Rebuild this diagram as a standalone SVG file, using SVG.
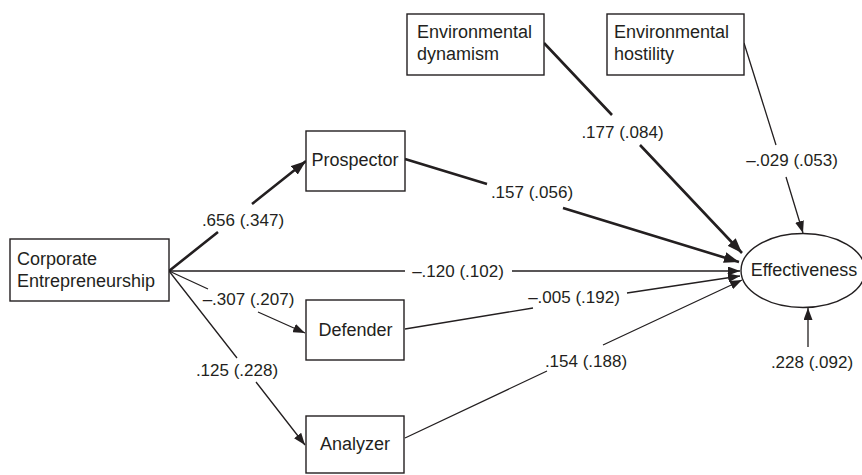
<svg xmlns="http://www.w3.org/2000/svg" width="862" height="475" viewBox="0 0 862 475">
<style>
  .box { fill: #fff; stroke: #231f20; stroke-width: 1.4; }
  .nt { font-family: "Liberation Sans", Arial, Helvetica, sans-serif; font-size: 18px; fill: #231f20; }
  .lt { font-family: "Liberation Sans", Arial, Helvetica, sans-serif; font-size: 17px; fill: #231f20; text-anchor: middle; }
  .mid { text-anchor: middle; }
  .thin { fill: none; stroke: #231f20; stroke-width: 1.3; marker-end: url(#ah); }
  .thick { fill: none; stroke: #231f20; stroke-width: 2.6; marker-end: url(#ahb); }
</style>
<defs>
  <marker id="ah" markerUnits="userSpaceOnUse" markerWidth="12" markerHeight="9" refX="12" refY="4.5" orient="auto">
    <path d="M0,0 L12,4.5 L0,9 Z" fill="#231f20"/>
  </marker>
  <marker id="ahb" markerUnits="userSpaceOnUse" markerWidth="15" markerHeight="11" refX="15" refY="5.5" orient="auto">
    <path d="M0,0 L15,5.5 L0,11 Z" fill="#231f20"/>
  </marker>
</defs>
<rect width="862" height="475" fill="#fff"/>

<g id="connectors">
  <path class="thick" d="M169,271 L218,232 M252,204 L306,161"/>
  <path class="thick" d="M405,159 L487,184 M563,208 L739,262"/>
  <path class="thick" d="M544,43 L612,115 M640,145 L742,253"/>
  <path class="thin" d="M744,43 L776,145 M786,177 L803,233"/>
  <path class="thin" d="M169,271 L405,271 M512,271 L740,271"/>
  <path class="thin" d="M169,271 L208,289 M258,312 L305,333"/>
  <path class="thin" d="M169,271 L237,358 M256,382 L305,445"/>
  <path class="thin" d="M405,329 L533,308 M627,293 L740,276"/>
  <path class="thin" d="M405,438 L547,371 M603,345 L742,280"/>
  <path class="thin" d="M808,347 L808,308"/>
</g>

<g id="labels">
  <text class="lt" x="243" y="226">.656 (.347)</text>
  <text class="lt" x="532" y="198">.157 (.056)</text>
  <text class="lt" x="622.5" y="138">.177 (.084)</text>
  <text class="lt" x="792" y="166">–.029 (.053)</text>
  <text class="lt" x="458" y="277">–.120 (.102)</text>
  <text class="lt" x="248.5" y="305">–.307 (.207)</text>
  <text class="lt" x="237" y="376">.125 (.228)</text>
  <text class="lt" x="574" y="303">–.005 (.192)</text>
  <text class="lt" x="586" y="367">.154 (.188)</text>
  <text class="lt" x="812" y="368">.228 (.092)</text>
</g>

<g id="corporate-entrepreneurship">
  <rect class="box" x="10" y="239" width="159" height="62"/>
  <text class="nt" x="17" y="264.5">Corporate</text>
  <text class="nt" x="17" y="286.5">Entrepreneurship</text>
</g>
<g id="prospector">
  <rect class="box" x="306" y="131" width="99" height="60"/>
  <text class="nt mid" x="355" y="166">Prospector</text>
</g>
<g id="defender">
  <rect class="box" x="306" y="300" width="98" height="60"/>
  <text class="nt mid" x="355.5" y="336">Defender</text>
</g>
<g id="analyzer">
  <rect class="box" x="306" y="416" width="98" height="57"/>
  <text class="nt mid" x="355" y="450">Analyzer</text>
</g>
<g id="environmental-dynamism">
  <rect class="box" x="407" y="14" width="137" height="61"/>
  <text class="nt" x="417" y="37.7">Environmental</text>
  <text class="nt" x="417" y="60">dynamism</text>
</g>
<g id="environmental-hostility">
  <rect class="box" x="607" y="14" width="137" height="61"/>
  <text class="nt" x="614" y="37.7">Environmental</text>
  <text class="nt" x="614" y="60">hostility</text>
</g>
<g id="effectiveness">
  <ellipse class="box" cx="803" cy="270.5" rx="62" ry="37"/>
  <text class="nt mid" x="804" y="276">Effectiveness</text>
</g>
</svg>
